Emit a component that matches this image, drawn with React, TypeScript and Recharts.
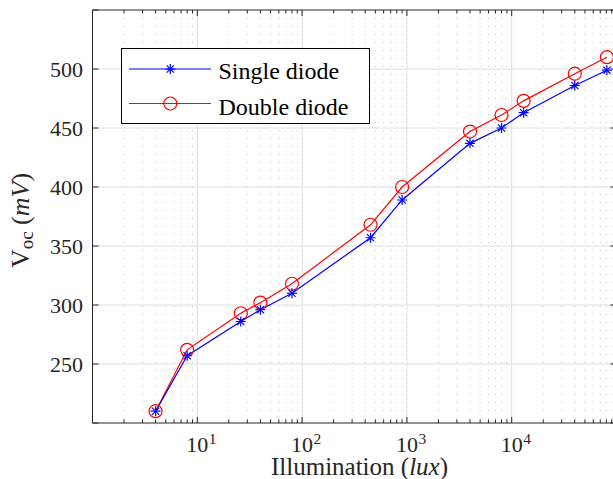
import React from 'react';
import { LineChart, Line, XAxis, YAxis, CartesianGrid, Legend } from 'recharts';

// ---- data ----
const illuminance = [4, 8, 26, 40, 80, 450, 900, 4000, 8000, 13000, 40000, 81000];
const singleDiode = [210, 257, 286, 296, 310, 357, 389, 437, 450, 463, 486, 499];
const doubleDiode = [210, 262, 293, 302, 318, 368, 400, 447, 461, 473, 496, 510];

const xMajorTicks = [1, 10, 100, 1000, 10000, 100000];
const xLabeledExponents = [1, 2, 3, 4];
const xMinorTicks = [
  2, 3, 4, 5, 6, 7, 8, 9,
  20, 30, 40, 50, 60, 70, 80, 90,
  200, 300, 400, 500, 600, 700, 800, 900,
  2000, 3000, 4000, 5000, 6000, 7000, 8000, 9000,
  20000, 30000, 40000, 50000, 60000, 70000, 80000, 90000,
];
const xAllTicks = [...xMajorTicks, ...xMinorTicks].sort((a, b) => a - b);
const yTicks = [200, 250, 300, 350, 400, 450, 500, 550];
const yLabeledTicks = [250, 300, 350, 400, 450, 500];
const xGridMajor = [10, 100, 1000, 10000];

const seriesNames = ['Single diode', 'Double diode'];

const data = illuminance.map((x, i) => ({ x, single: singleDiode[i], double: doubleDiode[i] }));

// ---- styles ----
const FONT = '"Liberation Serif", "Times New Roman", Tinos, serif';
const AXIS = '#262626';
const BLUE = '#0000ff';
const RED = '#ff0000';

const isPow10 = (v: number) => Math.abs(Math.log10(v) - Math.round(Math.log10(v))) < 1e-9;

const BottomTick = (props: any) => {
  const { x, y, payload } = props;
  const v = payload.value;
  const major = isPow10(v);
  const len = major ? 6 : 3.5;
  const exp = Math.round(Math.log10(v));
  const labeled = major && xLabeledExponents.includes(exp);
  return (
    <g>
      <line x1={x} x2={x} y1={y} y2={y - len} stroke={AXIS} strokeWidth={1} />
      {labeled && (
        <>
          <text x={x} y={y + 29} textAnchor="middle" fontSize={22} fontFamily={FONT} fill={AXIS}>10</text>
          <text x={x + 11.5} y={y + 20.5} textAnchor="start" fontSize={15.5} fontFamily={FONT} fill={AXIS}>{exp}</text>
        </>
      )}
    </g>
  );
};

const TopTick = (props: any) => {
  const { x, y, payload } = props;
  const major = isPow10(payload.value);
  const len = major ? 6 : 3.5;
  return <line x1={x} x2={x} y1={y} y2={y + len} stroke={AXIS} strokeWidth={1} />;
};

const LeftTick = (props: any) => {
  const { x, y, payload } = props;
  const labeled = yLabeledTicks.includes(payload.value);
  return (
    <g>
      <line x1={x} x2={x + 6} y1={y} y2={y} stroke={AXIS} strokeWidth={1} />
      {labeled && (
        <text x={x - 9.5} y={y + 7.5} textAnchor="end" fontSize={22} fontFamily={FONT} fill={AXIS}>
          {payload.value}
        </text>
      )}
    </g>
  );
};

const RightTick = (props: any) => {
  const { x, y } = props;
  return <line x1={x} x2={x - 6} y1={y} y2={y} stroke={AXIS} strokeWidth={1} />;
};

const StarDot = (props: any) => {
  const { cx, cy, index } = props;
  if (cx == null || cy == null) return <g key={`s${index}`} />;
  const r = 5;
  const d = r * 0.72;
  return (
    <g key={`s${index}`} stroke={BLUE} strokeWidth={1.2}>
      <line x1={cx - r} y1={cy} x2={cx + r} y2={cy} />
      <line x1={cx} y1={cy - r} x2={cx} y2={cy + r} />
      <line x1={cx - d} y1={cy - d} x2={cx + d} y2={cy + d} />
      <line x1={cx - d} y1={cy + d} x2={cx + d} y2={cy - d} />
    </g>
  );
};

const CircleDot = (props: any) => {
  const { cx, cy, index } = props;
  if (cx == null || cy == null) return <g key={`c${index}`} />;
  return <circle key={`c${index}`} cx={cx} cy={cy} r={6.5} fill="none" stroke={RED} strokeWidth={1.2} />;
};

const LegendBox = () => (
  <svg width={249} height={76} style={{ display: 'block', overflow: 'visible' }}>
    <rect x={0.5} y={0.5} width={248} height={75} fill="#ffffff" stroke="#000000" strokeWidth={1} />
    <line x1={8} x2={90} y1={21} y2={21} stroke={BLUE} strokeWidth={1.2} />
    <StarDot cx={49.3} cy={21} index={0} />
    <text x={97.5} y={31} fontSize={24} fontFamily={FONT} fill="#000">{seriesNames[0]}</text>
    <line x1={8} x2={90} y1={55.5} y2={55.5} stroke={RED} strokeWidth={1.2} />
    <CircleDot cx={49.3} cy={55.5} index={1} />
    <text x={97.5} y={66.5} fontSize={24} fontFamily={FONT} fill="#000">{seriesNames[1]}</text>
  </svg>
);

const XTitle = (props: any) => {
  const vb = props.viewBox || {};
  const cx = (vb.x ?? 92.5) + (vb.width ?? 524) / 2 + 5;
  const top = vb.y ?? 423;
  return (
    <text x={cx} y={top + 52} textAnchor="middle" fontSize={25} fontFamily={FONT} fill={AXIS}>
      Illumination (<tspan fontStyle="italic">lux</tspan>)
    </text>
  );
};

const YTitle = (props: any) => {
  const vb = props.viewBox || {};
  const cy = (vb.y ?? 10) + (vb.height ?? 413) / 2 + 4;
  const bx = 29;
  return (
    <text
      x={bx}
      y={cy}
      transform={`rotate(-90, ${bx}, ${cy})`}
      textAnchor="middle"
      fontSize={26}
      fontFamily={FONT}
      fill={AXIS}
    >
      V<tspan fontSize={19} dy={4}>oc</tspan>
      <tspan dy={-4}> (</tspan>
      <tspan fontStyle="italic">mV</tspan>)
    </text>
  );
};

export default function App() {
  return (
    <div style={{ position: 'absolute', left: 0, top: 0, width: 613, height: 479, overflow: 'hidden', background: '#fff' }}>
      <LineChart width={620} height={479} data={data} margin={{ top: 9, right: 0, left: 0, bottom: 0 }}>
        <XAxis
          xAxisId="main"
          dataKey="x"
          type="number"
          scale="log"
          domain={[1, 100000]}
          allowDataOverflow
          ticks={xAllTicks}
          interval={0}
          tick={BottomTick}
          tickSize={0}
          tickMargin={0}
          tickLine={false}
          height={56}
          axisLine={{ stroke: AXIS, strokeWidth: 1 }}
          label={<XTitle />}
        />
        <XAxis
          xAxisId="top"
          dataKey="x"
          orientation="top"
          type="number"
          scale="log"
          domain={[1, 100000]}
          allowDataOverflow
          ticks={xAllTicks}
          interval={0}
          tick={TopTick}
          tickSize={0}
          tickMargin={0}
          tickLine={false}
          height={1}
          axisLine={{ stroke: AXIS, strokeWidth: 1 }}
        />
        <YAxis
          yAxisId="left"
          type="number"
          domain={[200, 550]}
          allowDataOverflow
          ticks={yTicks}
          interval={0}
          tick={LeftTick}
          tickSize={0}
          tickMargin={0}
          tickLine={false}
          width={92.5}
          axisLine={{ stroke: AXIS, strokeWidth: 1 }}
          label={<YTitle />}
        />
        <YAxis
          yAxisId="right"
          orientation="right"
          type="number"
          domain={[200, 550]}
          allowDataOverflow
          ticks={yTicks}
          interval={0}
          tick={RightTick}
          tickSize={0}
          tickMargin={0}
          tickLine={false}
          width={3.5}
          axisLine={{ stroke: AXIS, strokeWidth: 1 }}
        />
        <CartesianGrid
          xAxisId="main"
          yAxisId="left"
          horizontal={false}
          verticalValues={xMinorTicks}
          stroke="#c4c4c4"
          strokeDasharray="1 7"
        />
        <CartesianGrid
          xAxisId="main"
          yAxisId="left"
          verticalValues={xGridMajor}
          horizontalValues={yLabeledTicks}
          stroke="#dedede"
        />
        <Line
          xAxisId="top"
          yAxisId="right"
          dataKey="single"
          stroke="none"
          dot={false}
          activeDot={false}
          legendType="none"
          isAnimationActive={false}
        />
        <Line
          xAxisId="main"
          yAxisId="left"
          dataKey="double"
          name={seriesNames[1]}
          stroke={RED}
          strokeWidth={1.2}
          dot={CircleDot}
          activeDot={false}
          isAnimationActive={false}
        />
        <Line
          xAxisId="main"
          yAxisId="left"
          dataKey="single"
          name={seriesNames[0]}
          stroke={BLUE}
          strokeWidth={1.2}
          dot={StarDot}
          activeDot={false}
          isAnimationActive={false}
        />
        <Legend
          layout="vertical"
          align="center"
          verticalAlign="middle"
          content={<LegendBox />}
          wrapperStyle={{ position: 'absolute', left: 120.5, top: 48, width: 249, height: 76 }}
        />
      </LineChart>
    </div>
  );
}
